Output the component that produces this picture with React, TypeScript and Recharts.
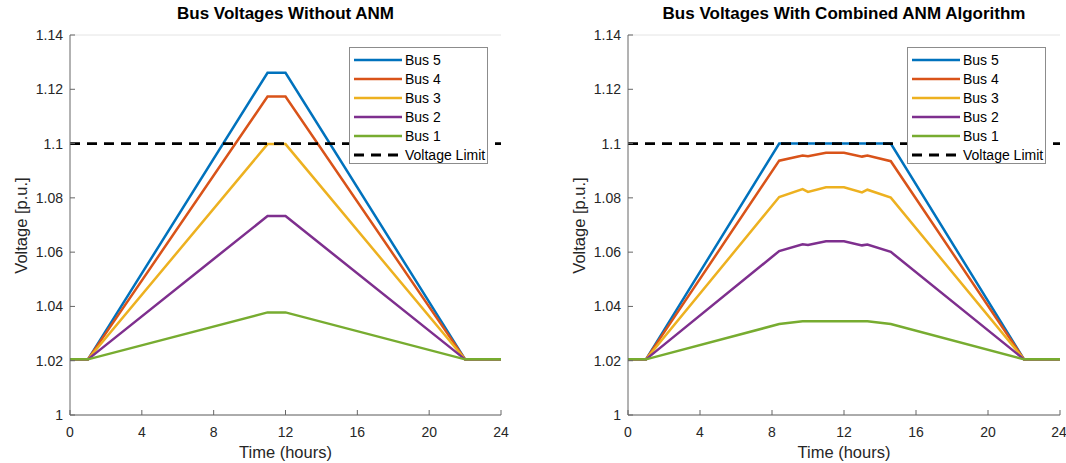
import { LineChart, Line, XAxis, YAxis, CartesianGrid, Legend } from "recharts";

const xTicks = [0, 4, 8, 12, 16, 20, 24];
const yTicks = [1, 1.02, 1.04, 1.06, 1.08, 1.1, 1.12, 1.14];

// without ANM
const baseHours = [0, 1, 11, 12, 22, 24];
const baseBus5 = [1.0205, 1.0205, 1.1261, 1.1261, 1.0205, 1.0205];
const baseBus4 = [1.0205, 1.0205, 1.1173, 1.1173, 1.0205, 1.0205];
const baseBus3 = [1.0205, 1.0205, 1.0998, 1.0998, 1.0205, 1.0205];
const baseBus2 = [1.0205, 1.0205, 1.0733, 1.0733, 1.0205, 1.0205];
const baseBus1 = [1.0205, 1.0205, 1.0378, 1.0378, 1.0205, 1.0205];

// with combined ANM
const anmHours = [0, 1, 8.4, 9.7, 10, 11, 12, 13, 13.3, 14.6, 22, 24];
const anmBus5 = [1.0205, 1.0205, 1.1, 1.1, 1.1, 1.1, 1.1, 1.1, 1.1, 1.1, 1.0205, 1.0205];
const anmBus4 = [1.0205, 1.0205, 1.0937, 1.0956, 1.0953, 1.0966, 1.0966, 1.0952, 1.0956, 1.0935, 1.0205, 1.0205];
const anmBus3 = [1.0205, 1.0205, 1.0803, 1.0832, 1.0822, 1.0839, 1.0839, 1.082, 1.083, 1.0801, 1.0205, 1.0205];
const anmBus2 = [1.0205, 1.0205, 1.0604, 1.0629, 1.0626, 1.064, 1.064, 1.0625, 1.0628, 1.0601, 1.0205, 1.0205];
const anmBus1 = [1.0205, 1.0205, 1.0335, 1.0345, 1.0345, 1.0345, 1.0345, 1.0345, 1.0345, 1.0335, 1.0205, 1.0205];

const limitHours = [0, 24];
const limitValues = [1.1, 1.1];

const seriesNames = ["Bus 5", "Bus 4", "Bus 3", "Bus 2", "Bus 1"];
const colors = ["#0072BD", "#D95319", "#EDB120", "#7E2F8E", "#77AC30"];

const FONT = "Arial, 'Liberation Sans', Helvetica, sans-serif";
const TXT = "#262626";
const AXIS = "#666666";

const pts = (hours: number[], vals: number[]) => hours.map((t, i) => ({ t, v: vals[i] }));

const LegendBox = () => (
  <div style={{ border: "1px solid #8c8c8c", background: "white", width: 139, height: 117, boxSizing: "border-box", padding: "3px 0 0 4px", fontFamily: FONT, fontSize: 14, color: "#000" }}>
    {seriesNames.map((n, i) => (
      <div key={n} style={{ display: "flex", alignItems: "center", height: 18.9 }}>
        <svg width={51} height={6} style={{ flex: "none" }}>
          <line x1={0} y1={3} x2={48} y2={3} stroke={colors[i]} strokeWidth={2.5} />
        </svg>
        <span style={{ whiteSpace: "nowrap" }}>{n}</span>
      </div>
    ))}
    <div style={{ display: "flex", alignItems: "center", height: 18.9 }}>
      <svg width={51} height={6} style={{ flex: "none" }}>
        <line x1={0} y1={3} x2={48} y2={3} stroke="#000" strokeWidth={3} strokeDasharray="10 7" />
      </svg>
      <span style={{ whiteSpace: "nowrap" }}>Voltage Limit</span>
    </div>
  </div>
);

function Panel({ title, hours, buses, x, width, ml, mr, legendLeft }: any) {
  const plotLeft = ml + 40;
  const plotRight = width - mr;
  return (
    <div style={{ position: "absolute", left: x, top: 0, width, height: 463 }}>
      <LineChart width={width} height={463} margin={{ top: 35, right: mr, bottom: 18, left: ml }}>
        <CartesianGrid vertical={false} stroke="#e4e4e4" />
        <XAxis xAxisId="b" dataKey="t" type="number" domain={[0, 24]} ticks={xTicks} height={30}
          tickSize={-5} tickMargin={17} stroke={AXIS} tick={{ fill: TXT, fontSize: 14, fontFamily: FONT }} />
        <XAxis xAxisId="top" orientation="top" dataKey="t" type="number" domain={[0, 24]} ticks={xTicks}
          height={0} tickSize={-5} tick={false} stroke={AXIS} />
        <YAxis yAxisId="l" type="number" domain={[1, 1.14]} ticks={yTicks} width={40} interval={0}
          tickSize={-5} tickMargin={12} stroke={AXIS} tick={{ fill: TXT, fontSize: 14, fontFamily: FONT }} />
        <YAxis yAxisId="r" orientation="right" type="number" domain={[1, 1.14]} ticks={yTicks} width={0}
          tickSize={-5} tick={false} stroke={AXIS} />
        {buses.map((vals: number[], i: number) => (
          <Line key={seriesNames[i]} xAxisId="b" yAxisId="l" data={pts(hours, vals)} dataKey="v" type="linear"
            stroke={colors[i]} strokeWidth={2.5} dot={false} isAnimationActive={false} />
        ))}
        <Line xAxisId="b" yAxisId="l" data={pts(limitHours, limitValues)} dataKey="v" type="linear"
          stroke="#000" strokeWidth={2.7} strokeDasharray="10 7" dot={false} isAnimationActive={false} />
        <Legend layout="vertical" align="center" verticalAlign="middle" content={() => <LegendBox />}
          wrapperStyle={{ left: legendLeft, top: 47, width: 139, height: 117 }} />
      </LineChart>
      <div style={{ position: "absolute", left: plotLeft, width: plotRight - plotLeft, top: 4, textAlign: "center", fontFamily: FONT, fontWeight: "bold", fontSize: 17, color: "#000", whiteSpace: "nowrap" }}>
        {title}
      </div>
      <div style={{ position: "absolute", left: plotLeft, width: plotRight - plotLeft, top: 443, textAlign: "center", fontFamily: FONT, fontSize: 16.5, color: TXT }}>
        Time (hours)
      </div>
      <div style={{ position: "absolute", left: plotLeft - 150 - 49, top: 216, width: 300, textAlign: "center", transform: "rotate(-90deg)", fontFamily: FONT, fontSize: 16.5, color: TXT }}>
        Voltage [p.u.]
      </div>
    </div>
  );
}

export default function App() {
  return (
    <div style={{ position: "absolute", left: 0, top: 0, width: 1066, height: 463, background: "white", overflow: "hidden" }}>
      <Panel title="Bus Voltages Without ANM" hours={baseHours}
        buses={[baseBus5, baseBus4, baseBus3, baseBus2, baseBus1]}
        x={0} width={540} ml={30} mr={39} legendLeft={349} />
      <Panel title="Bus Voltages With Combined ANM Algorithm" hours={anmHours}
        buses={[anmBus5, anmBus4, anmBus3, anmBus2, anmBus1]}
        x={540} width={526} ml={48} mr={6} legendLeft={367} />
    </div>
  );
}
